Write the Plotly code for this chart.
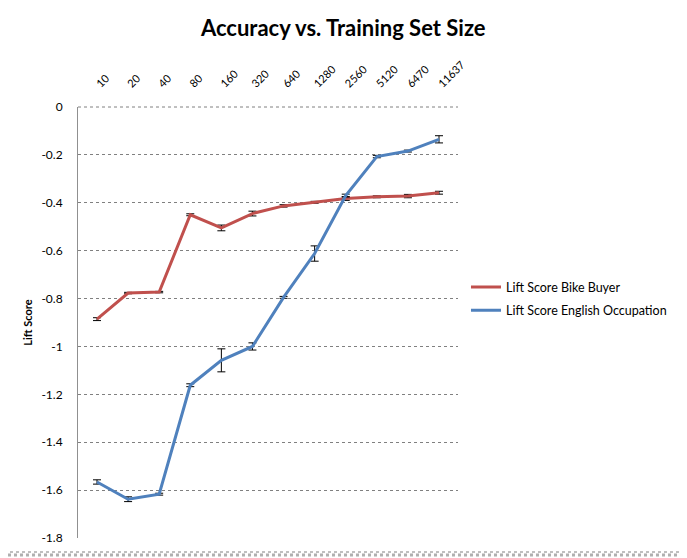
import plotly.graph_objects as go

sizes = ["10", "20", "40", "80", "160", "320", "640", "1280", "2560", "5120", "6470", "11637"]
bike_buyer = [-0.886, -0.777, -0.773, -0.450, -0.505, -0.445, -0.413, -0.398, -0.382, -0.375, -0.372, -0.358]
bike_err = [0.006, 0.003, 0.003, 0.004, 0.012, 0.010, 0.005, 0.004, 0.008, 0.004, 0.007, 0.006]
english_occ = [-1.566, -1.638, -1.617, -1.162, -1.058, -1.000, -0.795, -0.612, -0.370, -0.207, -0.184, -0.135]
english_err = [0.009, 0.010, 0.004, 0.006, 0.048, 0.015, 0.004, 0.032, 0.006, 0.005, 0.004, 0.015]

y_ticks = [0, -0.2, -0.4, -0.6, -0.8, -1, -1.2, -1.4, -1.6, -1.8]
y_tick_text = ["0", "-0.2", "-0.4", "-0.6", "-0.8", "-1", "-1.2", "-1.4", "-1.6", "-1.8"]

FONT = "Lato"

fig = go.Figure()
fig.add_trace(go.Scatter(
    x=sizes, y=bike_buyer, mode="lines", name="Lift Score Bike Buyer",
    legendgroup="a",
    line=dict(color="#C0504D", width=3),
    error_y=dict(type="data", array=bike_err, color="black", thickness=1, width=4),
))
fig.add_trace(go.Scatter(
    x=sizes, y=english_occ, mode="lines", name="Lift Score English Occupation",
    legendgroup="b",
    line=dict(color="#4F81BD", width=3),
    error_y=dict(type="data", array=english_err, color="black", thickness=1, width=4),
))

fig.update_layout(
    width=687, height=558,
    paper_bgcolor="white", plot_bgcolor="white",
    margin=dict(l=70, r=237, t=99, b=28, autoexpand=False),
    font=dict(family=FONT, color="black", size=12),
    title=dict(text="<b>Accuracy vs. Training Set Size</b>", x=0.488, xanchor="center",
               xref="container", y=0.964, yanchor="middle", yref="container",
               font=dict(size=22, family=FONT)),
    showlegend=True,
    legend=dict(x=1.021, y=0.555, xanchor="left", yanchor="middle",
                font=dict(size=12.5, family=FONT), bgcolor="rgba(0,0,0,0)",
                tracegroupgap=4, itemwidth=30),
    xaxis=dict(type="category", side="top", tickangle=-45, showgrid=False,
               showline=False, ticks="", tickfont=dict(size=11),
               ticklabelstandoff=14),
    yaxis=dict(range=[-1.8, 0], tickvals=y_ticks, ticktext=y_tick_text,
               showgrid=True, gridcolor="#808080", griddash="dot", gridwidth=1,
               showline=True, linecolor="#909090", linewidth=1, zeroline=False,
               ticks="", ticklen=0, ticklabelstandoff=12, tickfont=dict(size=12),
               title=dict(text="<b>Lift Score</b>", font=dict(size=11), standoff=6)),
)

# top gridline at 0 (dotted)
fig.add_shape(type="line", xref="paper", yref="paper", x0=0, x1=1, y0=1, y1=1,
              line=dict(color="#808080", width=1, dash="dot"))

# outer chart border (right and bottom edges visible) with shadow
px_x = lambda fx: (fx - 70) / 380.0
px_y = lambda fy: (530 - fy) / 431.0
fig.add_shape(type="line", xref="paper", yref="paper",
              x0=px_x(674), x1=px_x(674), y0=px_y(-10), y1=px_y(544),
              line=dict(color="#808080", width=1, dash="dot"))
fig.add_shape(type="line", xref="paper", yref="paper",
              x0=px_x(-10), x1=px_x(674), y0=px_y(544), y1=px_y(544),
              line=dict(color="#808080", width=1, dash="dot"))
fig.add_shape(type="line", xref="paper", yref="paper",
              x0=px_x(677), x1=px_x(677), y0=px_y(-6), y1=px_y(547),
              line=dict(color="#b0b0b0", width=3, dash="dot"))
fig.add_shape(type="line", xref="paper", yref="paper",
              x0=px_x(-6), x1=px_x(677), y0=px_y(547), y1=px_y(547),
              line=dict(color="#b0b0b0", width=3, dash="dot"))

fig.write_html("out.html")
